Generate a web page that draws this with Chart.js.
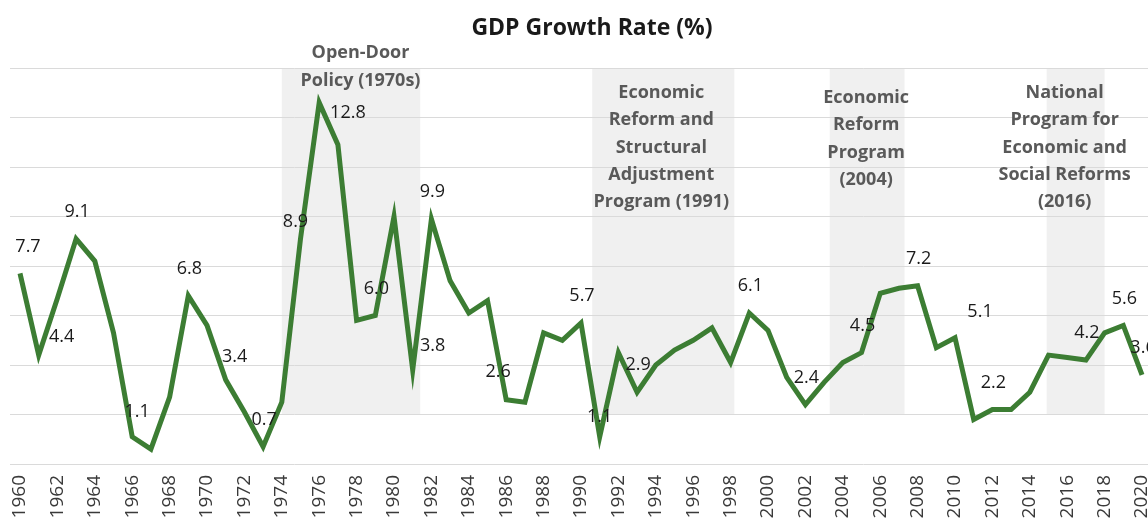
<!DOCTYPE html>
<html>
<head>
<meta charset="utf-8">
<title>GDP Growth Rate</title>
<script src="https://cdn.jsdelivr.net/npm/chart.js@4.4.1/dist/chart.umd.min.js"></script>
<style>
  html, body { margin: 0; padding: 0; background: #fff; }
  #wrap { width: 1148px; height: 524px; }
</style>
</head>
<body>
<div id="wrap"><canvas id="gdpChart" width="1148" height="524"></canvas></div>
<script>
const chartTitle = 'GDP Growth Rate (%)';

const years = [
  1960, 1961, 1962, 1963, 1964, 1965, 1966, 1967, 1968, 1969,
  1970, 1971, 1972, 1973, 1974, 1975, 1976, 1977, 1978, 1979,
  1980, 1981, 1982, 1983, 1984, 1985, 1986, 1987, 1988, 1989,
  1990, 1991, 1992, 1993, 1994, 1995, 1996, 1997, 1998, 1999,
  2000, 2001, 2002, 2003, 2004, 2005, 2006, 2007, 2008, 2009,
  2010, 2011, 2012, 2013, 2014, 2015, 2016, 2017, 2018, 2019,
  2020
];

const growth = [
  7.7, 4.4, 6.7, 9.1, 8.2, 5.3, 1.1, 0.6, 2.7, 6.8,
  5.6, 3.4, 2.1, 0.7, 2.5, 9.1, 14.6, 12.9, 5.8, 6.0,
  10.0, 3.8, 9.9, 7.4, 6.1, 6.6, 2.6, 2.5, 5.3, 5.0,
  5.7, 1.1, 4.5, 2.9, 4.0, 4.6, 5.0, 5.5, 4.1, 6.1,
  5.4, 3.5, 2.4, 3.3, 4.1, 4.5, 6.9, 7.1, 7.2, 4.7,
  5.1, 1.8, 2.2, 2.2, 2.9, 4.4, 4.3, 4.2, 5.3, 5.6,
  3.6
];

// years that carry a printed value, and the text printed for them
const labelYears = [1960, 1961, 1963, 1966, 1969, 1971, 1973, 1975, 1977, 1979,
  1981, 1982, 1986, 1990, 1991, 1993, 1999, 2002, 2005, 2008, 2010, 2012, 2017, 2019, 2020];
const labelTexts = ['7.7', '4.4', '9.1', '1.1', '6.8', '3.4', '0.7', '8.9', '12.8', '6.0',
  '3.8', '9.9', '2.6', '5.7', '1.1', '2.9', '6.1', '2.4', '4.5', '7.2', '5.1', '2.2', '4.2', '5.6', '3.6'];

// shaded reform periods
const bandFrom = [1974, 1990.6, 2003.3, 2014.9];
const bandTo = [1981.4, 1998.2, 2007.3, 2018.0];
const bandNotes = [
  ['Open-Door', 'Policy (1970s)'],
  ['Economic', 'Reform and', 'Structural', 'Adjustment', 'Program (1991)'],
  ['Economic', 'Reform', 'Program', '(2004)'],
  ['National', 'Program for', 'Economic and', 'Social Reforms', '(2016)']
];

const FONT = '"Open Sans", "DejaVu Sans", sans-serif';

const titlePlugin = {
  id: 'plainTitle',
  afterDraw(chart, args, opts) {
    const ctx = chart.ctx;
    ctx.save();
    ctx.font = 'bold 23px ' + FONT;
    ctx.fillStyle = '#1a1a1a';
    ctx.textAlign = 'center';
    ctx.textBaseline = 'middle';
    ctx.fillText(chartTitle, opts.x, opts.y);
    ctx.restore();
  }
};

const periodBands = {
  id: 'periodBands',
  beforeDraw(chart, args, opts) {
    const {ctx, scales: {x, y}} = chart;
    const top = y.getPixelForValue(opts.top);
    const bottom = y.getPixelForValue(opts.bottom);
    ctx.save();
    ctx.fillStyle = opts.color;
    bandFrom.forEach((from, i) => {
      const left = x.getPixelForValue(from);
      const right = x.getPixelForValue(bandTo[i]);
      ctx.fillRect(left, top, right - left, bottom - top);
    });
    ctx.restore();
  },
  afterDatasetsDraw(chart, args, opts) {
    const {ctx, scales: {x, y}} = chart;
    ctx.save();
    ctx.font = 'bold 18px ' + FONT;
    ctx.fillStyle = '#595959';
    ctx.textAlign = 'center';
    ctx.textBaseline = 'middle';
    bandNotes.forEach((lines, i) => {
      const [dx, firstLine] = opts.notePlace[i];
      const cx = x.getPixelForValue((bandFrom[i] + bandTo[i]) / 2) + dx;
      const y0 = y.getPixelForValue(firstLine);
      lines.forEach((txt, k) => ctx.fillText(txt, cx, y0 + k * opts.lineGap));
    });
    ctx.restore();
  }
};

const valueLabels = {
  id: 'valueLabels',
  afterDatasetsDraw(chart, args, opts) {
    const ctx = chart.ctx;
    const meta = chart.getDatasetMeta(0);
    ctx.save();
    ctx.font = '18px ' + FONT;
    ctx.fillStyle = '#1a1a1a';
    ctx.textAlign = 'center';
    ctx.textBaseline = 'middle';
    labelYears.forEach((yr, i) => {
      const pt = meta.data[years.indexOf(yr)];
      const [dx, dy] = opts.shift[yr] || opts.defaultShift;
      ctx.fillText(labelTexts[i], pt.x + dx, pt.y + dy);
    });
    ctx.restore();
  }
};

new Chart(document.getElementById('gdpChart'), {
  type: 'line',
  data: {
    datasets: [{
      data: years.map((yr, i) => ({x: yr, y: growth[i]})),
      borderColor: '#3c7d33',
      borderWidth: 5,
      pointRadius: 0,
      tension: 0,
      fill: false
    }]
  },
  options: {
    responsive: false,
    animation: false,
    layout: { padding: { top: 68, left: 0, right: 0, bottom: 0 } },
    scales: {
      x: {
        type: 'linear',
        min: 1959.465,
        max: 2020.32,
        grid: { display: false },
        border: { display: false },
        ticks: {
          stepSize: 2,
          includeBounds: false,
          autoSkip: false,
          maxTicksLimit: 100,
          minRotation: 90,
          maxRotation: 90,
          padding: 3,
          color: '#3a3a3a',
          font: { family: FONT, size: 19 },
          callback: (v) => String(v)
        },
        afterFit: (scale) => {
          scale.height = 60;
          scale.paddingLeft = 0;
          scale.paddingRight = 0;
        }
      },
      y: {
        min: 0,
        max: 16,
        border: { display: false },
        grid: { color: '#dadada', lineWidth: 1, drawTicks: false },
        ticks: { display: false, stepSize: 2 },
        afterFit: (scale) => { scale.width = 10; }
      }
    },
    plugins: {
      legend: { display: false },
      tooltip: { enabled: false },
      title: { display: false },
      plainTitle: { x: 592, y: 28 },
      periodBands: {
        color: '#f0f0f0',
        top: 16,
        bottom: 2,
        lineGap: 27.4,
        notePlace: [[9.5, 16.6], [-2, 15.0], [-1, 14.8], [-11, 15.0]]
      },
      valueLabels: {
        defaultShift: [1, -27],
        shift: {
          1960: [8, -27], 1961: [23, -18], 1966: [5, -25], 1971: [9, -23],
          1975: [-5, -17], 1977: [10, -32], 1981: [20, -24], 1986: [-8, -28],
          1991: [0, -20], 2010: [25, -26]
        }
      }
    }
  },
  plugins: [periodBands, valueLabels, titlePlugin]
});
</script>
</body>
</html>
